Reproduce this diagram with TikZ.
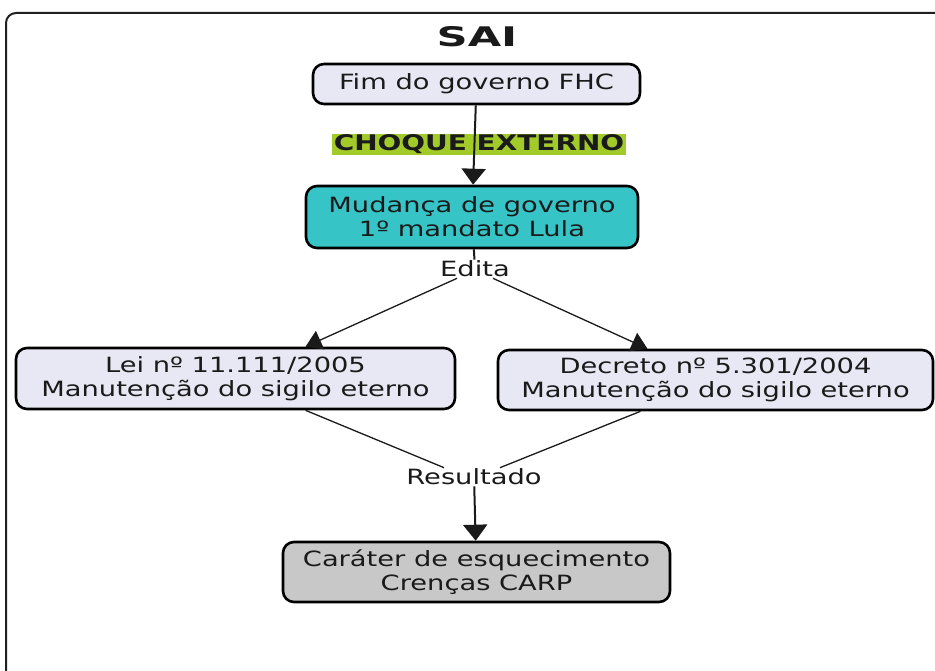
\documentclass[tikz,border=0pt]{standalone}
\usepackage{fontspec}
\setmainfont{DejaVu Sans}[FakeStretch=1.3]
\newfontfamily\headingfont{DejaVu Sans}[FakeStretch=1.6]
\usetikzlibrary{arrows.meta,backgrounds}

\definecolor{lav}{HTML}{E8E8F4}
\definecolor{teal}{HTML}{36C4C7}
\definecolor{greybox}{HTML}{C8C8C8}
\definecolor{shock}{HTML}{A2CB2A}
\definecolor{ink}{HTML}{1A1A1A}
\definecolor{framec}{HTML}{202020}

\tikzset{
  bodyfont/.style={font=\fontsize{21}{24}\selectfont},
  box/.style={draw=black, line width=2.6pt, rounded corners=11pt, align=center,
              inner sep=0pt, text=ink, bodyfont},
  lightbox/.style={box, fill=lav},
  tealbox/.style={box, fill=teal},
  greyfill/.style={box, fill=greybox},
  lbl/.style={inner sep=1pt, text=ink, bodyfont},
  shocklbl/.style={inner sep=0pt, minimum width=294pt, minimum height=21pt,
                   text=ink, font=\fontsize{21.5}{23}\selectfont\bfseries},
  heading/.style={inner sep=0pt, text=ink, font=\headingfont\fontsize{27}{30}\selectfont\bfseries},
  conn/.style={line width=1.3pt, draw=ink},
  thickconn/.style={line width=2pt, draw=ink},
  diagarrow/.style={conn, -{Triangle[width=20pt,length=16pt]}},
  vertarrow/.style={thickconn, -{Triangle[width=24pt,length=16pt]}},
}

\begin{document}
\begin{tikzpicture}[x=1pt, y=-1pt]
\useasboundingbox (0,0) rectangle (935,671);

% outer frame: only its left and top sides fall inside the page
\draw[framec, line width=2pt, rounded corners=10pt] (6,671) -- (6,13) -- (935,13);

% title
\node[heading] (sai) at (477,37) {SAI};

% boxes
\node[lightbox, minimum width=327pt, minimum height=40pt] (fim) at (476.5,84) {Fim do governo FHC};
\node[shocklbl] (choque) at (479,144.5) {CHOQUE EXTERNO};
\node[tealbox, minimum width=332pt, minimum height=62pt] (mud) at (472,217)
  {Mudança de governo\\1º mandato Lula};
\node[lbl] (edita) at (475,269) {Edita};
\node[lightbox, minimum width=439pt, minimum height=61pt] (lei) at (235.5,378.5)
  {Lei nº 11.111/2005\\Manutenção do sigilo eterno};
\node[lightbox, minimum width=435pt, minimum height=60pt] (dec) at (715.5,380)
  {Decreto nº 5.301/2004\\Manutenção do sigilo eterno};
\node[lbl] (res) at (474,477) {Resultado};
\node[greyfill, minimum width=387pt, minimum height=60pt] (cren) at (476.5,572)
  {Caráter de esquecimento\\Crenças CARP};

% green band behind the shock label, with the connector running over it
\begin{scope}[on background layer]
  \fill[shock] (choque.north west) rectangle (choque.south east);
  \draw[vertarrow] (fim) -- (mud);
\end{scope}

% connectors
\draw[thickconn] (mud) -- (edita);
\draw[diagarrow] ([xshift=-18pt]edita.south) -- ([xshift=70pt]lei.north);
\draw[diagarrow] ([xshift=18pt]edita.south) -- ([xshift=-68pt]dec.north);
\draw[conn] ([xshift=70pt]lei.south) -- ([xshift=-30pt]res.north);
\draw[conn] ([xshift=-75pt]dec.south) -- ([xshift=26pt]res.north);
\draw[vertarrow] (res) -- (cren);
\end{tikzpicture}
\end{document}
